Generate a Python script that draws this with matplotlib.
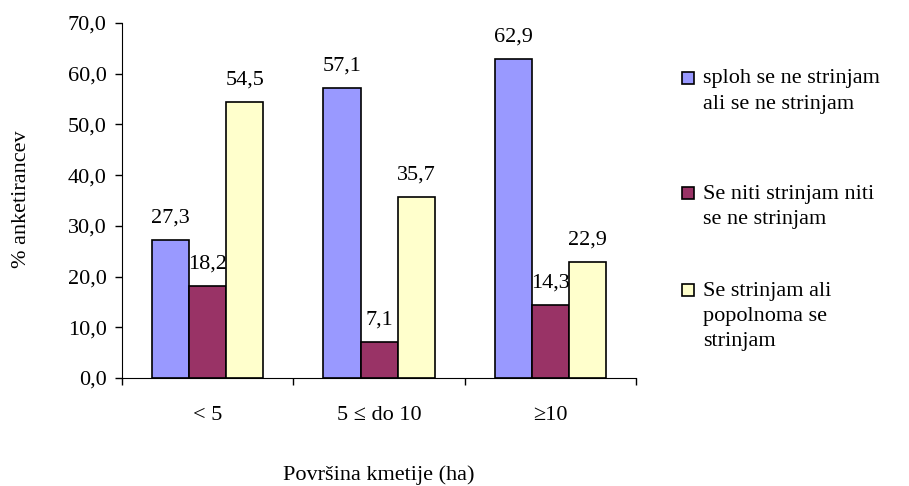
import numpy as np
import matplotlib.pyplot as plt
from matplotlib.patches import Rectangle
from matplotlib.ticker import FixedLocator

plt.rcParams['font.family'] = ['Liberation Serif', 'DejaVu Serif']

categories = ['< 5', '5 \u2264 do 10', '\u226510']
series_names = ['sploh se ne strinjam\nali se ne strinjam',
                'Se niti strinjam niti\nse ne strinjam',
                'Se strinjam ali\npopolnoma se\nstrinjam']
disagree = [27.3, 57.1, 62.9]
neutral = [18.2, 7.1, 14.3]
agree = [54.5, 35.7, 22.9]
colors = ['#9999FF', '#993366', '#FFFFCC']
fs = 16

fig = plt.figure(figsize=(9.09, 4.86), dpi=100)
ax = fig.add_axes([0.1342, 0.2222, 0.5655, 0.7305])

x = np.arange(len(categories))
w = 0.216
for i, vals in enumerate([disagree, neutral, agree]):
    bars = ax.bar(x + (i - 1) * w, vals, w, color=colors[i], edgecolor='black', linewidth=1.2)
    for b, v in zip(bars, vals):
        ax.annotate(f'{v:.1f}'.replace('.', ','), (b.get_x() + b.get_width() / 2, v),
                    xytext=(0, 9), textcoords='offset points', ha='center', va='bottom', fontsize=fs)

ax.set_xlim(-0.5, 2.5)
ax.set_ylim(0, 70)
ax.set_yticks(np.arange(0, 71, 10))
ax.set_yticklabels([f'{v:.1f}'.replace('.', ',') for v in np.arange(0, 71, 10)])
ax.xaxis.set_major_locator(FixedLocator([-0.5, 0.5, 1.5, 2.5]))
ax.set_xticklabels([])
ax.xaxis.set_minor_locator(FixedLocator(x))
ax.set_xticklabels(categories, minor=True)
ax.tick_params(axis='x', which='minor', length=0, pad=20, labelsize=fs)
ax.tick_params(axis='x', which='major', length=5, width=1)
ax.tick_params(axis='y', length=5, width=1, pad=6, labelsize=fs)
ax.spines['top'].set_visible(False)
ax.spines['right'].set_visible(False)

fig.text(0.024, 0.59, '% anketirancev', rotation=90, ha='center', va='center', fontsize=fs)
fig.text(0.417, 0.022, 'Površina kmetije (ha)', ha='center', va='center', fontsize=fs)

# legend drawn by hand to match the Excel layout
line_centres = [0.84, 0.603, 0.403]
for i, name in enumerate(series_names):
    fig.add_artist(Rectangle((0.7505, line_centres[i] - 0.0124), 0.0132, 0.0247,
                             transform=fig.transFigure,
                             facecolor=colors[i], edgecolor='black', linewidth=1.2))
    fig.text(0.773, line_centres[i] + 0.017, name, ha='left', va='top', fontsize=fs,
             linespacing=1.45)

fig.savefig('out.png', dpi=100)
